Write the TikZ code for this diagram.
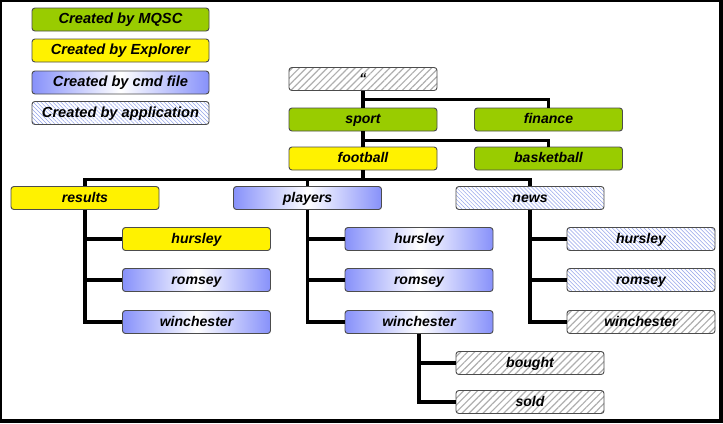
\documentclass[tikz,border=0pt]{standalone}
\usepackage{fontspec}
\setmainfont{Liberation Sans}
\usetikzlibrary{patterns.meta}

\definecolor{mqgreen}{RGB}{153,204,0}
\definecolor{cmdblue}{RGB}{135,145,250}
\definecolor{hatchblue}{RGB}{150,165,235}
\definecolor{hatchgray}{RGB}{175,175,175}
\newcommand{\boxfont}{\fontsize{12}{14}\selectfont\bfseries\itshape}

\tikzset{
    box/.style={draw=black!70, line width=0.8pt, rounded corners=2.5pt,
        minimum width=4.44cm, minimum height=0.69cm, inner sep=0pt,
        text height=1.45ex, text depth=0.05ex, font=\boxfont},
    key/.style={minimum width=5.31cm, font=\fontsize{12.5}{14}\selectfont\bfseries\itshape},
    mqsc/.style={box, fill=mqgreen},
    explorer/.style={box, fill=yellow},
    cmdfile/.style={box, left color=cmdblue, right color=cmdblue, middle color=white},
    appblue/.style={box, pattern={Lines[angle=-45, distance=2.4pt, line width=0.45pt]}, pattern color=hatchblue},
    appgray/.style={box, pattern={Lines[angle=45, distance=4.2pt, line width=1pt]}, pattern color=hatchgray},
    link/.style={line width=2.6pt}
}

\begin{document}
\begin{tikzpicture}
    % Frame
    \useasboundingbox (0, 0) rectangle (21.69, -12.69);
    \fill[black] (0, 0) rectangle (21.69, -12.69);
    \fill[white] (0.06, -0.06) rectangle (21.57, -12.57);

    % Legend
    \node[mqsc, key] (kmqsc) at (3.615, -0.585) {Created by MQSC};
    \node[explorer, key] (kexpl) at (3.615, -1.515) {Created by Explorer};
    \node[cmdfile, key] (kcmd) at (3.615, -2.475) {Created by cmd file};
    \node[appblue, key] (kapp) at (3.615, -3.39) {Created by application};

    % Topic tree
    \node[appgray] (root) at (10.89, -2.37) {``};
    \node[mqsc] (sport) at (10.89, -3.585) {sport};
    \node[mqsc] (finance) at (16.455, -3.585) {finance};
    \node[explorer] (football) at (10.89, -4.755) {football};
    \node[mqsc] (basketball) at (16.455, -4.755) {basketball};

    \node[explorer] (results) at (2.55, -5.94) {results};
    \node[cmdfile] (players) at (9.225, -5.94) {players};
    \node[appblue] (news) at (15.9, -5.94) {news};

    \node[explorer] (rhurs) at (5.895, -7.17) {hursley};
    \node[cmdfile] (rroms) at (5.895, -8.4) {romsey};
    \node[cmdfile] (rwinc) at (5.895, -9.66) {winchester};

    \node[cmdfile] (phurs) at (12.57, -7.17) {hursley};
    \node[cmdfile] (proms) at (12.57, -8.4) {romsey};
    \node[cmdfile] (pwinc) at (12.57, -9.66) {winchester};

    \node[appblue] (nhurs) at (19.23, -7.17) {hursley};
    \node[appblue] (nroms) at (19.23, -8.4) {romsey};
    \node[appgray] (nwinc) at (19.23, -9.66) {winchester};

    \node[appgray] (bought) at (15.9, -10.89) {bought};
    \node[appgray] (sold) at (15.9, -12.06) {sold};

    % Connectors
    \draw[link] (root) -- (sport);
    \draw[link] (root.south) -- ++(0, -0.26) -| (finance.north);
    \draw[link] (sport) -- (football);
    \draw[link] (sport.south) -- ++(0, -0.26) -| (basketball.north);
    \draw[link] (football.south) -- ++(0, -0.26) coordinate (bus) -| (results.north);
    \draw[link] (bus) -| (players.north);
    \draw[link] (bus) -| (news.north);

    \draw[link] (results.south) |- (rhurs.west);
    \draw[link] (results.south) |- (rroms.west);
    \draw[link] (results.south) |- (rwinc.west);
    \draw[link] (players.south) |- (phurs.west);
    \draw[link] (players.south) |- (proms.west);
    \draw[link] (players.south) |- (pwinc.west);
    \draw[link] (news.south) |- (nhurs.west);
    \draw[link] (news.south) |- (nroms.west);
    \draw[link] (news.south) |- (nwinc.west);
    \draw[link] (pwinc.south) |- (bought.west);
    \draw[link] (pwinc.south) |- (sold.west);
\end{tikzpicture}
\end{document}
